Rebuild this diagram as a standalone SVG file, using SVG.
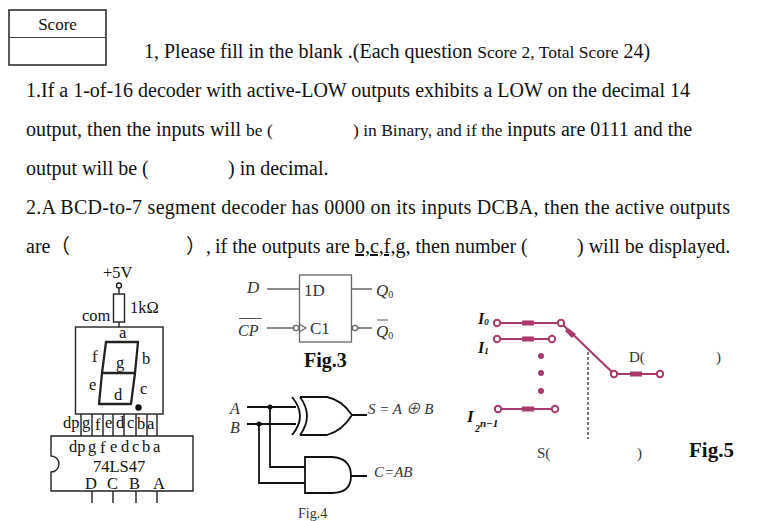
<svg xmlns="http://www.w3.org/2000/svg" width="768" height="521" viewBox="0 0 768 521">
<style>
text{font-family:"Liberation Serif","Times New Roman","Noto Sans CJK SC",serif;fill:#111}
.b{font-size:20px}.s{font-size:17.500px}.m{font-size:16.500px;fill:#333}.l{font-size:16px;fill:#333}
.i{font-style:italic}.w{font-weight:bold}
.k{fill:none;stroke:#222;stroke-width:1.400}
.g{fill:none;stroke:#111;stroke-width:1.800}
.f{fill:none;stroke:#666;stroke-width:1.300}
.p{fill:none;stroke:#a83a6e;stroke-width:2.200}
.c{fill:#fff;stroke:#a83a6e;stroke-width:2}
.d{fill:#a83a6e}
</style>
<rect width="768" height="521" fill="#fff"/>
<g id="score"><rect x="9" y="10" width="97" height="55" fill="none" stroke="#222" stroke-width="1.500"/><line x1="9" y1="37.500" x2="106" y2="37.500" stroke="#444" stroke-width="1"/><text x="57.500" y="30" text-anchor="middle" style="font-size:17px">Score</text></g>
<g id="text">
<text class="b" x="144" y="58">1, Please fill in the blank .(Each question <tspan class="s">Score 2, Total Score</tspan> 24)</text>
<text class="b" x="26" y="97" textLength="664">1.If a 1-of-16 decoder with active-LOW outputs exhibits a LOW on the decimal 14</text>
<text class="b" x="26" y="136">output, then the inputs will <tspan class="s">be (</tspan></text>
<text class="s" x="353" y="136">) in Binary, and if the</text><text class="b" x="507" y="136">inputs are 0111 and the</text>
<text class="b" x="26" y="175">output will be (</text><text class="b" x="228" y="175">) in decimal.</text>
<text class="b" x="26" y="214" textLength="704">2.A BCD-to-7 segment decoder has 0000 on its inputs DCBA, then the active outputs</text>
<text class="b" x="26" y="253">are</text><text class="b" x="50" y="253">（</text>
<text class="b" x="186" y="253">）,</text>
<text class="b" x="215" y="253">if the outputs are <tspan text-decoration="underline">b,c,f,g</tspan>, then number (</text>
<text class="b" x="577" y="253">) will be displayed.</text>
</g>
<g id="display">
<g class="k">
<circle cx="119" cy="285.500" r="2.500"/><path d="M119 288V294M119 322V327"/>
<rect x="113.500" y="294" width="11" height="28"/>
<rect x="75.500" y="327" width="87.500" height="87"/>
<path d="M81 414V436M92 414V436M103 414V436M113 414V436M124 414V436M136 414V436M147 414V436M157 414V436"/>
</g>
<path d="M106 342H138L135 373H102ZM102 373L99 404H131L135 373" fill="none" stroke="#222" stroke-width="2.300" stroke-linejoin="round"/>
<circle cx="138.500" cy="407.500" r="3.200" fill="#111"/>
<g class="m">
<text x="103" y="278">+5V</text><text x="130" y="313">1kΩ</text><text x="82" y="321">com</text>
<text x="119" y="338">a</text><text x="92" y="362">f</text><text x="142" y="364">b</text><text x="116" y="368">g</text><text x="89" y="390">e</text><text x="140" y="394">c</text><text x="114" y="400">d</text>
<text x="63" y="428">dp</text><text x="82" y="428">g</text><text x="95" y="430">f</text><text x="105" y="428">e</text><text x="116" y="428">d</text><text x="127" y="428">c</text><text x="137" y="429">b</text><text x="147" y="429">a</text>
</g>
</g>
<g id="chip">
<path class="k" d="M51 436H193V491H51V472A8 8 0 0 0 51 456ZM92 491V503M113 491V503M136 491V503M157 491V503"/>
<g class="m">
<text x="69" y="452">dp</text><text x="88" y="452">g</text><text x="100" y="453">f</text><text x="110" y="452">e</text><text x="121" y="452">d</text><text x="132" y="452">c</text><text x="142" y="452">b</text><text x="153" y="452">a</text>
<text x="93" y="471.500">74LS47</text><text x="85" y="489">D</text><text x="107" y="489">C</text><text x="129" y="489">B</text><text x="153" y="489">A</text>
</g>
</g>
<g id="fig3">
<rect class="f" x="299.500" y="275" width="52" height="67"/>
<path class="f" d="M267 289H299M267 328H293M351 289H372M358 328H372M299 324L306 328L299 332"/>
<circle class="f" cx="296" cy="328" r="2.600"/><circle class="f" cx="355" cy="328" r="2.600"/>
<text class="l" x="304" y="296" style="font-size:17px">1D</text><text class="l" x="310" y="334" style="font-size:17px">C1</text>
<text class="i l" x="247" y="293" style="font-size:17px">D</text>
<text class="i l" x="238" y="336">CP</text><line x1="239" y1="318.500" x2="262" y2="318.500" stroke="#555"/>
<text class="i l" x="376" y="296" style="font-size:17px">Q<tspan dy="2" style="font-size:10px;font-style:normal">0</tspan></text>
<text class="i l" x="376" y="337" style="font-size:17px">Q<tspan dy="2" style="font-size:10px;font-style:normal">0</tspan></text><line x1="377" y1="320" x2="388" y2="320" stroke="#555"/>
<text class="w" x="304" y="367" style="font-size:20px">Fig.3</text>
</g>
<g id="fig4">
<path class="g" d="M247 407H296M247 424H296M270 407V467H305M259 424V483H305M352 415H367M351 476H367"/>
<circle cx="270" cy="407" r="2.500" fill="#111"/><circle cx="259" cy="424" r="2.500" fill="#111"/>
<path class="g" d="M292 397Q308 416 292 435M300 397Q314 416 300 435M300 397H327Q342 400 352 415Q342 431 327 435H300"/>
<path class="g" d="M305 457H332Q351 458 351 476Q351 493 332 493H305Z"/>
<text class="i l" x="230" y="414">A</text><text class="i l" x="230" y="433">B</text>
<text class="i l" x="368" y="414" style="font-size:15px">S = A ⊕ B</text><text class="i l" x="374" y="477" style="font-size:15px">C=AB</text>
<text class="m" x="298" y="518" style="font-size:14px">Fig.4</text>
</g>
<g id="fig5">
<path class="p" d="M497 323H561L614 374H660M497 339H552M498 409H555"/>
<g class="d"><path d="M522 320.500H534V325.500H522ZM522 336.500H534V341.500H522ZM522 406.500H534V411.500H522ZM630 371.500H642V376.500H630ZM568 328L576 334L572 338L565 331Z"/><circle cx="541" cy="356" r="3"/><circle cx="541" cy="373" r="3"/><circle cx="541" cy="391" r="3"/></g>
<g class="c"><circle cx="497" cy="323" r="3.200"/><circle cx="561" cy="323" r="3.200"/><circle cx="497" cy="339" r="3.200"/><circle cx="552" cy="339" r="3.200"/><circle cx="498" cy="409" r="3.200"/><circle cx="555" cy="409" r="3.200"/><circle cx="614" cy="374" r="3.200"/><circle cx="660" cy="374" r="3.200"/></g>
<line x1="588" y1="352" x2="588" y2="439" stroke="#222" stroke-width="1.200" stroke-dasharray="3 2"/>
<g class="i w" style="font-size:16px"><text x="478" y="324">I<tspan dy="1" style="font-size:9px">0</tspan></text><text x="478" y="353">I<tspan dy="1" style="font-size:9px">1</tspan></text><text x="467" y="422" style="font-size:17px">I</text><text x="475" y="432" style="font-size:10px">2</text><text x="480" y="427" style="font-size:11px">n−1</text></g>
<text class="m" x="629" y="362" style="font-size:15px">D(</text><text class="m" x="716" y="362" style="font-size:15px">)</text>
<text class="m" x="537" y="458" style="font-size:15px">S(</text><text class="m" x="637" y="458" style="font-size:15px">)</text>
<text class="w" x="689" y="457" style="font-size:21px">Fig.5</text>
</g>
</svg>
